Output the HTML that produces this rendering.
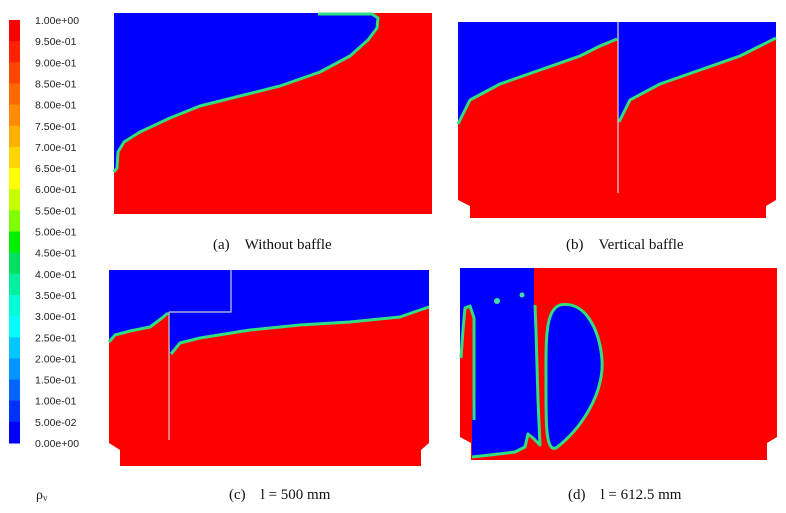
<!DOCTYPE html>
<html><head><meta charset="utf-8"><style>
body{margin:0;background:#fff;width:786px;height:513px;overflow:hidden;font-family:"Liberation Serif",serif}
svg{display:block}
.lbl{font-family:"Liberation Sans",sans-serif;font-size:10.5px;fill:#222}
.cap{font-family:"Liberation Serif",serif;font-size:15px;fill:#111}
.iface{fill:none;stroke:#30e080;stroke-width:3;stroke-linejoin:round}
</style></head><body>
<svg id="s" width="786" height="513" viewBox="0 0 786 513">
<g id="cbar"></g>

<!-- (a) -->
<g>
<rect x="114" y="13" width="318" height="201" fill="#ff0000"/>
<path d="M114,13 H372 L378,18 L377,28 L368,40 L350,56 L320,72 L280,86 L240,96 L200,106 L170,118 L140,132 L124,142 L118,152 L117,168 L114,172Z" fill="#0000ff"/>
<path class="iface" d="M114,172 L117,168 L118,152 L124,142 L140,132 L170,118 L200,106 L240,96 L280,86 L320,72 L350,56 L368,40 L377,28 L378,18 L372,14 L318,14"/>
</g>

<!-- (b) -->
<g>
<path d="M458,22 H776 V200 L766,206 V218 H470 V206 L458,200Z" fill="#ff0000"/>
<path d="M458,22 H776 V38 L760,46 L740,56 L700,70 L660,84 L630,100 L618,124 L618,38 L600,46 L580,56 L540,70 L500,84 L470,100 L458,125Z" fill="#0000ff"/>
<path class="iface" d="M776,38 L760,46 L740,56 L700,70 L660,84 L630,100 L619,122"/>
<path class="iface" d="M617,39 L600,46 L580,56 L540,70 L500,84 L470,100 L458,124"/>
<line x1="618" y1="22" x2="618" y2="193" stroke="#ddd" stroke-width="1.2"/>
</g>

<!-- (c) -->
<g>
<path d="M109,270 H429 V443 L421,450 V466 H120 V450 L109,443Z" fill="#ff0000"/>
<path d="M109,270 H429 V307 L420,310 L400,317 L350,322 L300,325 L250,330 L200,338 L180,343 L170,355 L169,312 L162,318 L150,327 L130,331 L115,335 L109,343Z" fill="#0000ff"/>
<path class="iface" d="M429,307 L420,310 L400,317 L350,322 L300,325 L250,330 L200,338 L180,343 L171,354"/>
<path class="iface" d="M168,313 L162,318 L150,327 L130,331 L115,335 L109,342"/>
<path d="M169,312 V440 M169,312 H231 V270" stroke="#ccc" stroke-width="1.2" fill="none"/>
</g>

<!-- (d) -->
<g>
<path d="M460,268 H777 V437 L767,443 V460 H471 V443 L460,437Z" fill="#ff0000"/>
<path d="M460,268 H534 V305 L536,330 L538,400 L540,445 L533,438 L528,434 L525,447 L515,452 L490,455 L472,457 L472,420 L474,318 L470,306 L465,308 L463,330 L460,360Z" fill="#0000ff"/>
<path class="iface" d="M535,305 L536,330 L538,400 L540,445 L533,438 L528,434 L525,447 L515,452 L490,455 L472,457"/>
<path class="iface" d="M474,420 L474,318 L470,306 L465,308 L463,330 L461,358"/>
<path d="M560,305 C585,300 600,330 602,360 C604,395 580,430 556,448 C545,452 546,420 546,380 C546,340 545,310 560,305Z" fill="#0000ff" stroke="#30e080" stroke-width="3"/>
<circle cx="497" cy="301" r="3" fill="#40e0a0"/>
<circle cx="522" cy="295" r="2.5" fill="#40e0a0"/>
</g>

<text class="cap" x="213" y="249">(a)&#160;&#160;&#160;&#160;Without baffle</text>
<text class="cap" x="566" y="249">(b)&#160;&#160;&#160;&#160;Vertical baffle</text>
<text class="cap" x="229" y="499">(c)&#160;&#160;&#160;&#160;l = 500 mm</text>
<text class="cap" x="568" y="499">(d)&#160;&#160;&#160;&#160;l = 612.5 mm</text>
<text x="36" y="499" font-family="Liberation Serif,serif" font-size="14" fill="#222">ρ<tspan font-size="9" dy="2">v</tspan></text>
</svg>
<script>
const tickLabels=["1.00e+00","9.50e-01","9.00e-01","8.50e-01","8.00e-01","7.50e-01","7.00e-01","6.50e-01","6.00e-01","5.50e-01","5.00e-01","4.50e-01","4.00e-01","3.50e-01","3.00e-01","2.50e-01","2.00e-01","1.50e-01","1.00e-01","5.00e-02","0.00e+00"];
const bandColors=["#ff0000","#ff2000","#ff4500","#ff6a00","#ff8c00","#ffb000","#ffd500","#ffff00","#c8ff00","#80ff00","#40f000","#00ee00","#00e060","#00f0a0","#00ffd8","#00ffff","#00c8ff","#0096ff","#0064ff","#0032ff","#0000ff"];
const cbG=document.getElementById('cbar');
const cbTop=20,cbBot=443,nBands=tickLabels.length-1,bandH=(cbBot-cbTop)/nBands;
for(let i=0;i<nBands;i++){
  const r=document.createElementNS('http://www.w3.org/2000/svg','rect');
  
  
  r.setAttribute('x',9);r.setAttribute('y',cbTop+i*bandH);r.setAttribute('width',11);r.setAttribute('height',bandH+0.5);
  r.setAttribute('fill',bandColors[Math.round(i*(bandColors.length-1)/(nBands-1))]);
  cbG.appendChild(r);
}
tickLabels.forEach((t,i)=>{
  const tx=document.createElementNS('http://www.w3.org/2000/svg','text');
  
  
  tx.setAttribute('class','lbl');tx.setAttribute('x',35);tx.setAttribute('y',cbTop+i*bandH+4);
  tx.textContent=t;cbG.appendChild(tx);
});
</script>
</body></html>
